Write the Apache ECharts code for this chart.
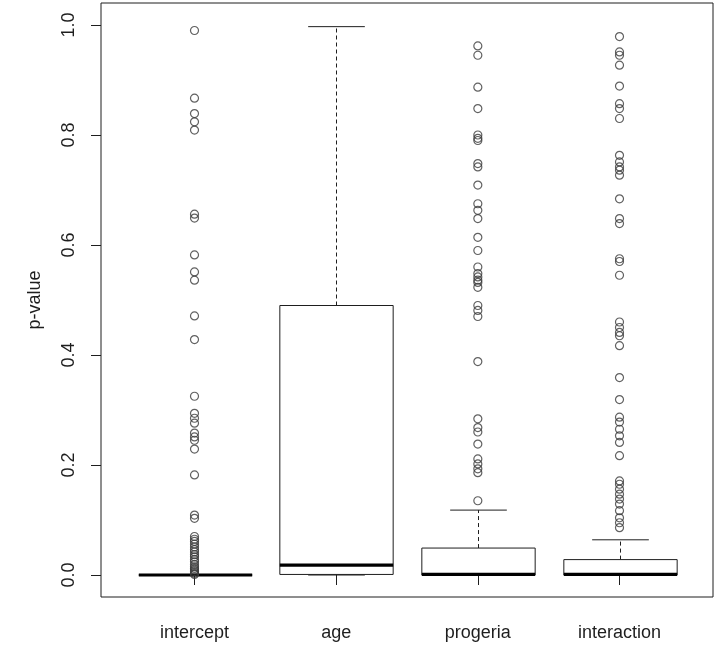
<!DOCTYPE html>
<html>
<head>
<meta charset="utf-8">
<script src="https://cdn.jsdelivr.net/npm/echarts@6/dist/echarts.min.js"></script>
<style>
  html, body { margin: 0; padding: 0; background: #ffffff; }
  #chart { width: 718px; height: 659px; }
</style>
</head>
<body>
<div id="chart"></div>
<script>
// Coefficient p-values per model term
const categories = ['intercept', 'age', 'progeria', 'interaction'];

// Box summary per term
const lowerWhisker = [0.000, 0.000, 0.000, 0.000];
const q1           = [0.000, 0.001, 0.000, 0.000];
const median       = [0.000, 0.018, 0.001, 0.001];
const q3           = [0.000, 0.490, 0.049, 0.028];
const upperWhisker = [0.000, 0.997, 0.118, 0.064];

// Outlying p-values per term
const outliersIntercept = [
  0.990, 0.867, 0.839, 0.824, 0.809, 0.656, 0.649, 0.582, 0.551, 0.536,
  0.471, 0.428, 0.325, 0.294, 0.285, 0.276, 0.258, 0.251, 0.245, 0.229,
  0.182, 0.109, 0.103, 0.070, 0.065, 0.061, 0.056, 0.051, 0.046, 0.042,
  0.037, 0.033, 0.028, 0.024, 0.019, 0.015, 0.012, 0.009, 0.006, 0.003, 0.001
];
const outliersAge = [];
const outliersProgeria = [
  0.962, 0.945, 0.887, 0.848, 0.800, 0.794, 0.790, 0.748, 0.742, 0.709,
  0.675, 0.663, 0.648, 0.614, 0.590, 0.560, 0.548, 0.542, 0.536, 0.532,
  0.523, 0.490, 0.481, 0.470, 0.388, 0.284, 0.268, 0.260, 0.238, 0.211,
  0.202, 0.193, 0.186, 0.135
];
const outliersInteraction = [
  0.979, 0.951, 0.945, 0.927, 0.889, 0.857, 0.848, 0.830, 0.763, 0.751,
  0.742, 0.736, 0.727, 0.684, 0.648, 0.639, 0.575, 0.570, 0.545, 0.460,
  0.450, 0.441, 0.435, 0.417, 0.359, 0.319, 0.287, 0.278, 0.265, 0.253,
  0.241, 0.217, 0.171, 0.165, 0.156, 0.147, 0.138, 0.129, 0.117, 0.104,
  0.095, 0.086
];

const yTicks = [0, 0.2, 0.4, 0.6, 0.8, 1.0];
const xTicks = [1, 2, 3, 4];

const outlierGroups = [outliersIntercept, outliersAge, outliersProgeria, outliersInteraction];

const boxData = categories.map((c, i) =>
  [i + 1, lowerWhisker[i], q1[i], median[i], q3[i], upperWhisker[i]]);

const outlierData = [];
outlierGroups.forEach((arr, i) => arr.forEach(v => outlierData.push([i + 1, v])));

const INK = '#1e1e1e';
const FONT = "'Liberation Sans', Arial, Helvetica, sans-serif";
const BOX_WIDTH = 0.8;

function renderBox(params, api) {
  const x = api.value(0);
  const lw = api.coord([x, api.value(1)]);
  const b1 = api.coord([x, api.value(2)]);
  const md = api.coord([x, api.value(3)]);
  const b3 = api.coord([x, api.value(4)]);
  const uw = api.coord([x, api.value(5)]);
  const w = api.size([BOX_WIDTH, 0])[0];
  const cx = Math.round(lw[0]) + 0.5;
  const half = w / 2;
  const cap = w / 4;
  const dashed = { stroke: INK, lineWidth: 1, lineDash: [4, 3], fill: null };
  const solid = { stroke: INK, lineWidth: 1, fill: null };
  return {
    type: 'group',
    children: [
      { type: 'line', shape: { x1: cx, y1: b3[1], x2: cx, y2: uw[1] }, style: dashed },
      { type: 'line', shape: { x1: cx, y1: b1[1], x2: cx, y2: lw[1] }, style: dashed },
      { type: 'line', shape: { x1: cx - cap, y1: uw[1], x2: cx + cap, y2: uw[1] }, style: solid },
      { type: 'line', shape: { x1: cx - cap, y1: lw[1], x2: cx + cap, y2: lw[1] }, style: solid },
      { type: 'rect', shape: { x: cx - half, y: b3[1], width: w, height: b1[1] - b3[1] },
        style: { fill: '#ffffff', stroke: INK, lineWidth: 1 } },
      { type: 'line', shape: { x1: cx - half, y1: md[1], x2: cx + half, y2: md[1] },
        style: { stroke: '#000000', lineWidth: 3.2 } }
    ]
  };
}

const chart = echarts.init(document.getElementById('chart'), null, { renderer: 'canvas' });
chart.setOption({
  animation: false,
  backgroundColor: '#ffffff',
  grid: {
    left: 101, right: 5, top: 3, bottom: 62,
    show: true, borderColor: INK, borderWidth: 1, backgroundColor: '#ffffff'
  },
  xAxis: {
    type: 'value',
    min: 0.34, max: 4.66,
    axisLine: { show: false },
    splitLine: { show: false },
    axisTick: { show: true, customValues: xTicks, length: 10, lineStyle: { color: INK, width: 1 } },
    axisLabel: {
      customValues: xTicks, margin: 27, fontSize: 18, fontFamily: FONT, color: INK,
      formatter: v => categories[Math.round(v) - 1] || ''
    }
  },
  yAxis: {
    type: 'value',
    min: -0.04, max: 1.04,
    name: 'p-value',
    nameLocation: 'middle',
    nameRotate: 90,
    nameGap: 57,
    nameTextStyle: { fontSize: 18, fontFamily: FONT, color: INK },
    axisLine: { show: false },
    splitLine: { show: false },
    axisTick: { show: true, customValues: yTicks, length: 10, lineStyle: { color: INK, width: 1 } },
    axisLabel: {
      customValues: yTicks, rotate: 90, margin: 23, fontSize: 18, fontFamily: FONT, color: INK,
      formatter: v => v.toFixed(1)
    }
  },
  series: [
    {
      type: 'custom',
      renderItem: renderBox,
      encode: { x: 0, y: [1, 2, 3, 4, 5] },
      data: boxData,
      z: 2
    },
    {
      type: 'scatter',
      data: outlierData,
      symbol: 'circle',
      symbolSize: 8,
      itemStyle: { color: 'rgba(0,0,0,0)', borderColor: '#3a3a3a', borderWidth: 1.2 },
      z: 3
    }
  ]
});
</script>
</body>
</html>
